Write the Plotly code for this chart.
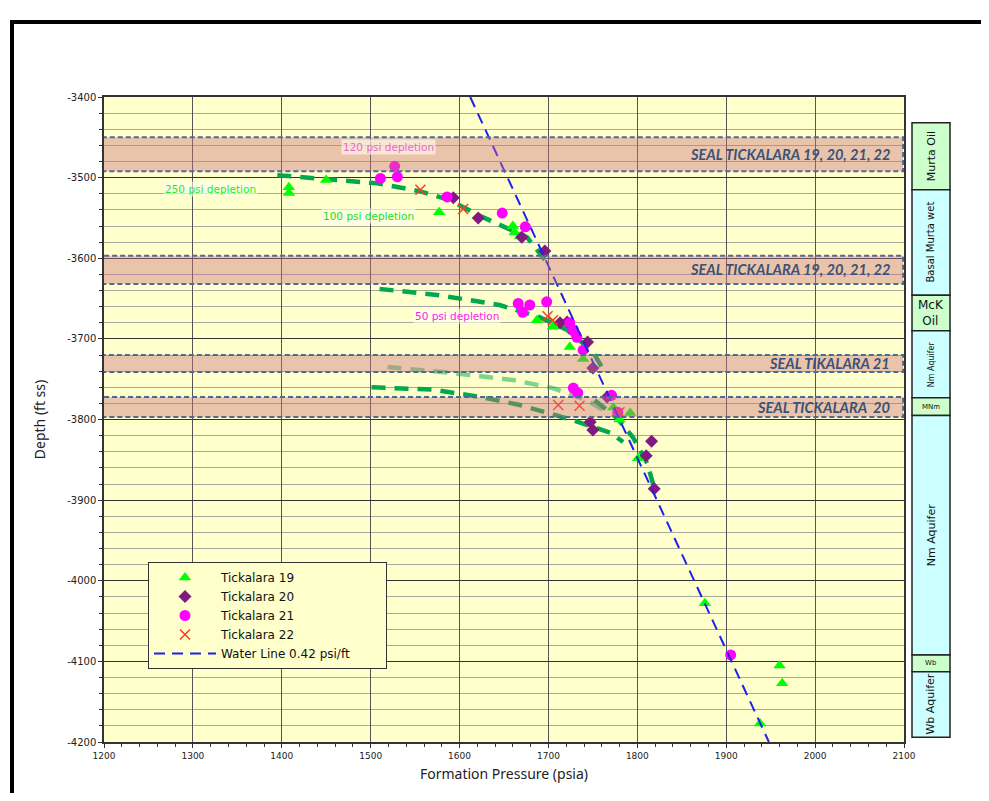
import plotly.graph_objects as go

# ---------------- data ----------------
t19_p = [1408, 1408, 1450, 1577, 1660, 1662, 1668, 1687, 1705, 1724, 1739, 1773, 1792, 1780, 1801, 1876, 1960, 1963, 1938]
t19_d = [-3512, -3519, -3503, -3543, -3560, -3568, -3573, -3677, -3685, -3710, -3725, -3785, -3792, -3800, -3848, -4028, -4105, -4127, -4177]

t20_p = [1593, 1621, 1670, 1696, 1713, 1721, 1744, 1750, 1766, 1747, 1750, 1816, 1810, 1819, 1729]
t20_d = [-3525, -3550, -3574, -3591, -3680, -3679, -3704, -3736, -3772, -3803, -3813, -3827, -3845, -3886, -3692]

t21_p = [1511, 1527, 1530, 1586, 1648, 1674, 1666, 1679, 1671, 1698, 1724, 1728, 1732, 1739, 1728, 1733, 1771, 1778, 1905]
t21_d = [-3501, -3486, -3499, -3524, -3544, -3561, -3656, -3658, -3667, -3654, -3680, -3689, -3698, -3714, -3761, -3767, -3770, -3791, -4092]

t22_p = [1556, 1604, 1699, 1705, 1711, 1735, 1780]
t22_d = [-3515, -3539, -3672, -3677, -3782, -3783, -3791]

water_p = [1612, 1948]
water_d = [-3400, -4200]

# depletion trend lines
dep250_p = [1395, 1507, 1556, 1589, 1626, 1676, 1696]
dep250_d = [-3497, -3507, -3517, -3528, -3549, -3574, -3602]
dep50_p = [1510, 1578, 1645, 1690, 1721, 1750, 1760]
dep50_d = [-3638, -3646, -3658, -3673, -3689, -3716, -3735]
depC_p = [1519, 1589, 1660, 1705, 1743, 1766]
depC_d = [-3735, -3742, -3751, -3761, -3776, -3791]
depD_p = [1501, 1570, 1623, 1668, 1728, 1750, 1771, 1784]
depD_d = [-3760, -3763, -3772, -3782, -3801, -3809, -3817, -3828]
depE_p = [1752, 1777, 1795, 1811, 1818]
depE_d = [-3776, -3798, -3822, -3854, -3881]

# seals
seal_top = [-3450, -3597, -3720, -3772]
seal_bot = [-3492, -3632, -3741, -3797]
seal_lbl = ["SEAL TICKALARA 19, 20, 21, 22", "SEAL TICKALARA 19, 20, 21, 22", "SEAL TIKALARA 21", "SEAL TICKALARA  20"]

# stratigraphic column
zone_top = [-3432, -3515, -3646, -3690, -3773, -3795, -4092, -4113]
zone_bot = [-3515, -3646, -3690, -3773, -3795, -4092, -4113, -4194]
zone_name = ["Murta Oil", "Basal Murta wet", "McK<br>Oil", "Nm Aquifer", "MNm", "Nm Aquifer", "Wb", "Wb Aquifer"]
zone_kind = ["oil", "wet", "oil", "wet", "oil", "wet", "oil", "wet"]
zone_vert = [True, True, False, True, False, True, False, True]
zone_fs = [11, 10, 12, 8, 7, 11, 7, 11]

y_ticks = [-3400, -3500, -3600, -3700, -3800, -3900, -4000, -4100, -4200]
y_ticktext = ["-3400", "-3500", "-3600", "-3700", "-3800", "-3900", "-4000", "-4100", "-4200"]
x_ticks = [1200, 1300, 1400, 1500, 1600, 1700, 1800, 1900, 2000, 2100]

# ---------------- geometry (page offset of 8px body margin) ----------------
OFF = 8
L, R, T, B = 104, 904, 97, 742          # plot area in screenshot pixels
COL_R = 950
W, H = 975, 785
PW = COL_R - L
PH = B - T


def px_x(px):
    return (px - L) / PW


def px_y(py):
    return (B - py) / PH


# ---------------- figure ----------------
fig = go.Figure()
GREEN = "#00A850"
dash_g = "14px,9px"
for p, d, op in [(dep250_p, dep250_d, 1), (dep50_p, dep50_d, 1), (depC_p, depC_d, 0.5),
                 (depD_p, depD_d, 1), (depE_p, depE_d, 1)]:
    fig.add_trace(go.Scatter(x=p, y=d, mode="lines", opacity=op, showlegend=False, hoverinfo="skip",
                             line=dict(color=GREEN, width=4.5, dash=dash_g)))

fig.add_trace(go.Scatter(x=t19_p, y=t19_d, mode="markers", name="Tickalara 19",
                         marker=dict(symbol="triangle-up", size=11, color="#00FF00")))
fig.add_trace(go.Scatter(x=t20_p, y=t20_d, mode="markers", name="Tickalara 20",
                         marker=dict(symbol="diamond", size=10, color="#7F1A7F")))
fig.add_trace(go.Scatter(x=t21_p, y=t21_d, mode="markers", name="Tickalara 21",
                         marker=dict(symbol="circle", size=11, color="#FF00FF")))
fig.add_trace(go.Scatter(x=t22_p, y=t22_d, mode="markers", name="Tickalara 22",
                         marker=dict(symbol="x-thin", size=10, line=dict(color="#FF3B1F", width=1.5))))
fig.add_trace(go.Scatter(x=water_p, y=water_d, mode="lines",
                         name="Water Line 0.42 psi/ft" + "\u00a0" * 8,
                         line=dict(color="#1F1FF0", width=2, dash="11px,7px")))

shapes = []
annotations = []
for t, b, lbl in zip(seal_top, seal_bot, seal_lbl):
    shapes.append(dict(type="rect", xref="x", yref="y", x0=1197, x1=2099, y0=b, y1=t,
                       fillcolor="rgba(205,115,125,0.42)", layer="above",
                       line=dict(color="#4A6B9A", width=2, dash="5px,3px")))
    annotations.append(dict(xref="x", yref="y", x=2086, y=(t + b) / 2, text=lbl, showarrow=False,
                            xanchor="right", yanchor="middle",
                            font=dict(family="Lato", size=14.6, color="#3A5278", weight="bold", style="italic")))

dep_lbls = [("120 psi depletion", 388, -3462, "#EE66CC"),
            ("250 psi depletion", 210, -3514, "#22EE22"),
            ("100 psi depletion", 368, -3547, "#22DD22"),
            ("50 psi depletion", 457, -3672, "#FF22EE")]
for txt, px, d, col in dep_lbls:
    annotations.append(dict(xref="paper", yref="y", x=px_x(px), y=d, text=txt, showarrow=False,
                            xanchor="center", yanchor="middle", bgcolor="rgba(255,255,240,0.6)",
                            font=dict(family="DejaVu Sans", size=10.5, color=col)))

cx0 = px_x(912)
cx1 = px_x(950)
for t, b, nm, k, v, fs in zip(zone_top, zone_bot, zone_name, zone_kind, zone_vert, zone_fs):
    shapes.append(dict(type="rect", xref="paper", yref="y", x0=cx0, x1=cx1, y0=b, y1=t,
                       fillcolor="#CCFFCC" if k == "oil" else "#CCFFFF", layer="above",
                       line=dict(color="#222222", width=1.5)))
    annotations.append(dict(xref="paper", yref="y", x=(cx0 + cx1) / 2, y=(t + b) / 2, text=nm,
                            showarrow=False, textangle=-90 if v else 0,
                            xanchor="center", yanchor="middle",
                            font=dict(family="DejaVu Sans", size=fs, color="#111111")))

# outer frame
shapes.append(dict(type="rect", xref="paper", yref="paper", x0=px_x(12), x1=px_x(1000),
                   y0=px_y(815), y1=px_y(22), line=dict(color="black", width=4), layer="above"))

fig.update_layout(
    width=W, height=H,
    margin=dict(l=L - OFF, r=W - (COL_R - OFF), t=T - OFF, b=H - (B - OFF), autoexpand=False),
    paper_bgcolor="white", plot_bgcolor="#FFFFCC",
    shapes=shapes, annotations=annotations,
    showlegend=True,
    legend=dict(x=px_x(148), y=px_y(562), xanchor="left", yanchor="top",
                bgcolor="#FFFFCC", bordercolor="#333333", borderwidth=1,
                font=dict(family="DejaVu Sans", size=12, color="#111111"),
                itemwidth=62, tracegroupgap=0),
    font=dict(family="DejaVu Sans", color="#222222"),
)

fig.update_xaxes(range=[1200, 2100], domain=[0, (R - L) / PW], tickvals=x_ticks,
                 ticks="outside", ticklen=4, tickcolor="#333", tickfont=dict(size=9, family="DejaVu Sans"),
                 showgrid=True, gridcolor="#555555", gridwidth=1.2,
                 showline=True, linecolor="#333333", linewidth=1.5, mirror=True, zeroline=False,
                 minor=dict(dtick=20, ticks="outside", ticklen=3, tickcolor="#333", showgrid=False),
                 title=dict(text="Formation Pressure (psia)", font=dict(family="Noto Sans", size=14, color="#222"),
                            standoff=10))
fig.update_yaxes(range=[-4200, -3400], tickvals=y_ticks, ticktext=y_ticktext,
                 ticks="outside", ticklen=4, tickcolor="#333", tickfont=dict(size=10, family="DejaVu Sans"),
                 showgrid=True, gridcolor="#333333", gridwidth=1.2,
                 showline=True, linecolor="#333333", linewidth=1.5, mirror=True, zeroline=False,
                 minor=dict(dtick=20, tick0=-4200, ticks="outside", ticklen=3, tickcolor="#333",
                            showgrid=True, gridcolor="#A8A8A0", gridwidth=1.2),
                 title=dict(text="Depth (ft ss)", font=dict(family="Noto Sans", size=14, color="#222"),
                            standoff=18))

fig.write_html("out.html")
